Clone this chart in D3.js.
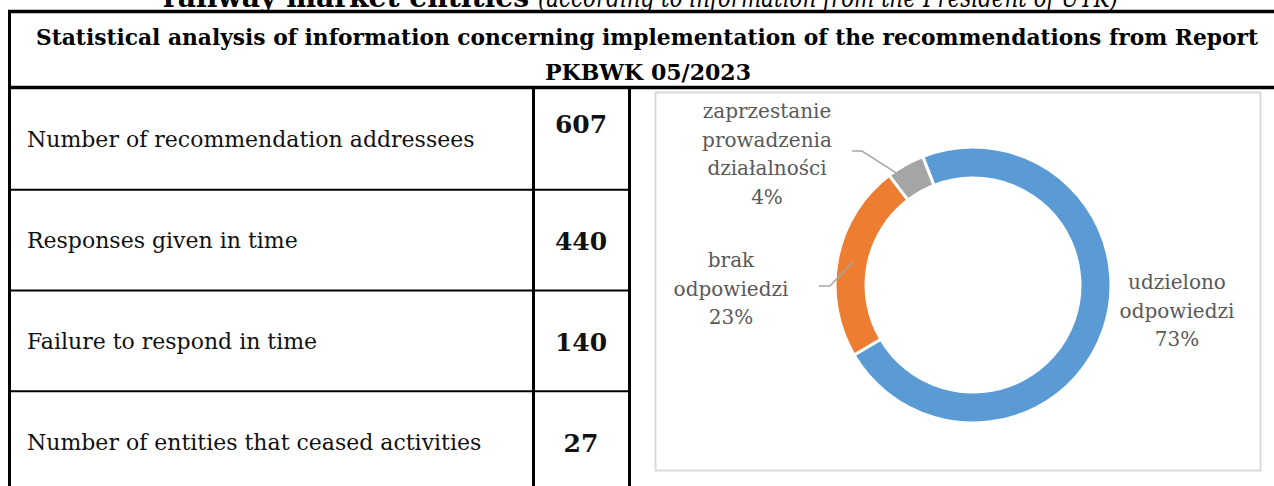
<!DOCTYPE html>
<html lang="en">
  <head>
    <meta charset="UTF-8" />
    <title>Statistical analysis - PKBWK 05/2023</title>
    <style>
      body { margin: 0; background: #fff; }
      svg text { font-family: "DejaVu Serif", serif; }
    </style>
  </head>
  <body>
    <svg width="1274" height="486"></svg>

    <script src="https://cdn.jsdelivr.net/npm/d3@7"></script>

    <script>
      // table rows
      const rowLabels = [
        "Number of recommendation addressees",
        "Responses given in time",
        "Failure to respond in time",
        "Number of entities that ceased activities",
      ];
      const rowValues = [607, 440, 140, 27];

      // donut slices (Excel order, clockwise)
      const sliceNames = [
        ["udzielono", "odpowiedzi"],
        ["brak", "odpowiedzi"],
        ["zaprzestanie", "prowadzenia", "działalności"],
      ];
      const sliceValues = [440, 140, 27];
      const slicePercents = ["73%", "23%", "4%"]; // as printed on the chart
      const sliceColors = ["#5b9bd5", "#ed7d31", "#a5a5a5"];

      const svg = d3.select("svg");

      // cut-off heading above the table (only its lower half is on the page)
      svg.append("text")
        .attr("x", 163).attr("y", 7)
        .attr("font-weight", "bold")
        .attr("textLength", 366).attr("lengthAdjust", "spacingAndGlyphs")
        .style("font-size", "27px")
        .text("railway market entities");
      svg.append("text")
        .attr("x", 538).attr("y", 7)
        .attr("font-style", "italic")
        .attr("textLength", 580).attr("lengthAdjust", "spacingAndGlyphs")
        .style("font-size", "27px")
        .text("(according to information from the President of UTK)");

      // table frame
      const line = (x1, y1, x2, y2, w) =>
        svg.append("line")
          .attr("x1", x1).attr("y1", y1).attr("x2", x2).attr("y2", y2)
          .attr("stroke", "#000").attr("stroke-width", w);

      line(8, 11.5, 1274, 11.5, 3.5);
      line(9.5, 10, 9.5, 486, 3);
      line(8, 87.5, 1274, 87.5, 3.5);
      line(533.5, 88, 533.5, 486, 3);
      line(629.5, 88, 629.5, 486, 3);

      // header
      svg.append("text")
        .attr("x", 647).attr("y", 45)
        .attr("text-anchor", "middle")
        .attr("font-weight", "bold")
        .attr("textLength", 1222).attr("lengthAdjust", "spacingAndGlyphs")
        .style("font-size", "22px")
        .text("Statistical analysis of information concerning implementation of the recommendations from Report");
      svg.append("text")
        .attr("x", 648).attr("y", 80)
        .attr("text-anchor", "middle")
        .attr("font-weight", "bold")
        .attr("textLength", 206).attr("lengthAdjust", "spacingAndGlyphs")
        .style("font-size", "22px")
        .text("PKBWK 05/2023");

      // rows
      const rowY = d3.scaleLinear().domain([0, 4]).range([89, 492]);
      rowLabels.forEach((lab, i) => {
        if (i > 0) line(9, rowY(i), 631, rowY(i), 2);
        const mid = (rowY(i) + rowY(i + 1)) / 2;
        svg.append("text")
          .attr("x", 27).attr("y", mid + 8)
          .style("font-size", "22px")
          .style("fill", "#111")
          .text(lab);
        svg.append("text")
          .attr("x", 581).attr("y", i === 0 ? mid - 6 : mid + 10)
          .attr("text-anchor", "middle")
          .attr("font-weight", "bold")
          .style("font-size", "25px")
          .style("fill", "#111")
          .text(rowValues[i]);
      });

      // chart area
      svg.append("rect")
        .attr("x", 655.5).attr("y", 92.5)
        .attr("width", 605).attr("height", 378)
        .attr("fill", "#fff")
        .attr("stroke", "#d9d9d9").attr("stroke-width", 2);

      const cx = 973, cy = 285, rOut = 138, rIn = 107;
      const a0 = -21.4 * Math.PI / 180;
      const pie = d3.pie().sort(null).startAngle(a0).endAngle(a0 + 2 * Math.PI);
      const arc = d3.arc().innerRadius(rIn).outerRadius(rOut);
      const arcs = pie(sliceValues);

      const g = svg.append("g").attr("transform", `translate(${cx},${cy})`);
      g.selectAll("path")
        .data(arcs)
        .enter()
        .append("path")
        .attr("d", arc)
        .attr("fill", (d, i) => sliceColors[i])
        .attr("stroke", "#fff")
        .attr("stroke-width", 3);

      // label placement (manual, as in the original workbook)
      const labelPos = [
        { x: 1177, y: 289, leader: null },
        { x: 731, y: 267, leader: { x: 819, y: 286, elbow: 11, r: 122 } },
        { x: 767, y: 118, leader: { x: 852, y: 151, elbow: 10, r: 136, da: -5 } },
      ];
      const lh = 28.7;

      arcs.forEach((d, i) => {
        const p = labelPos[i];
        const lines = sliceNames[i].concat([slicePercents[i]]);
        const t = svg.append("text")
          .attr("text-anchor", "middle")
          .style("font-size", "20px")
          .style("fill", "#595959");
        lines.forEach((s, k) => {
          t.append("tspan").attr("x", p.x).attr("y", p.y + k * lh).text(s);
        });
        if (p.leader) {
          const L = p.leader;
          const ang = (d.startAngle + d.endAngle) / 2 + ((L.da || 0) * Math.PI) / 180;
          const ex = cx + L.r * Math.sin(ang), ey = cy - L.r * Math.cos(ang);
          svg.append("polyline")
            .attr("points", `${L.x},${L.y} ${L.x + L.elbow},${L.y} ${ex},${ey}`)
            .attr("fill", "none")
            .attr("stroke", "#a6a6a6")
            .attr("stroke-width", 1.5);
        }
      });
    </script>
  </body>
</html>
